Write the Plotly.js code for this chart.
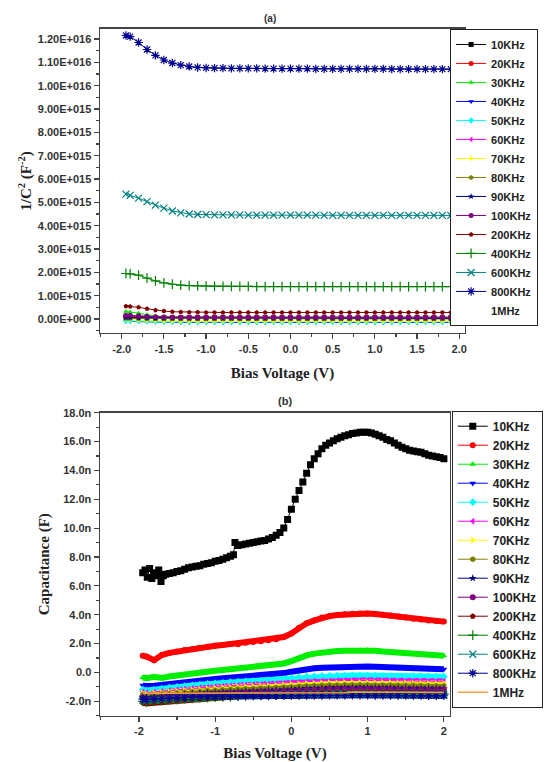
<!DOCTYPE html>
<html><head><meta charset="utf-8">
<script src="https://cdn.plot.ly/plotly-3.0.1.min.js"></script>
<style>body{margin:0;background:#fff}#chart{width:555px;height:762px}</style>
</head><body><div id="chart"></div>
<script>
// Shared bias-voltage samples (V)
const V = [-1.95,-1.9,-1.8,-1.7,-1.6,-1.5,-1.4,-1.3,-1.2,-1.1,-1.0,-0.9,-0.8,-0.7,-0.6,-0.5,-0.4,-0.3,-0.2,-0.1,0.0,0.1,0.2,0.3,0.4,0.5,0.6,0.7,0.8,0.9,1.0,1.1,1.2,1.3,1.4,1.5,1.6,1.7,1.8,1.9,2.0];
const labels = ['10KHz','20KHz','30KHz','40KHz','50KHz','60KHz','70KHz','80KHz','90KHz','100KHz','200KHz','400KHz','600KHz','800KHz','1MHz'];

// (a) 1/C^2 in units of 1e15 F^-2
const inv10K  = [0.08,0.08,0.07,0.06,0.05,0.05,0.05,0.05,0.05,0.05,0.05,0.05,0.05,0.05,0.05,0.05,0.05,0.05,0.05,0.05,0.05,0.05,0.05,0.05,0.05,0.05,0.05,0.05,0.05,0.05,0.05,0.05,0.05,0.05,0.05,0.05,0.05,0.05,0.05,0.05,0.05];
const inv20K  = [0.12,0.12,0.11,0.1,0.09,0.08,0.07,0.07,0.07,0.07,0.07,0.07,0.07,0.07,0.07,0.07,0.07,0.07,0.07,0.07,0.07,0.07,0.07,0.07,0.07,0.07,0.07,0.07,0.07,0.07,0.07,0.07,0.07,0.07,0.07,0.07,0.07,0.07,0.07,0.07,0.07];
const inv30K  = [0.32,0.3,0.25,0.18,0.12,0.09,0.08,0.07,0.07,0.07,0.07,0.07,0.07,0.07,0.07,0.07,0.07,0.07,0.07,0.07,0.07,0.07,0.07,0.07,0.07,0.07,0.07,0.07,0.07,0.07,0.07,0.07,0.07,0.07,0.07,0.07,0.07,0.07,0.07,0.07,0.07];
const inv40K  = [-0.1,-0.1,-0.11,-0.12,-0.13,-0.14,-0.15,-0.15,-0.15,-0.15,-0.15,-0.15,-0.15,-0.15,-0.15,-0.15,-0.15,-0.15,-0.15,-0.15,-0.15,-0.15,-0.15,-0.15,-0.15,-0.15,-0.15,-0.15,-0.15,-0.15,-0.15,-0.15,-0.15,-0.15,-0.15,-0.15,-0.15,-0.15,-0.15,-0.15,-0.15];
const inv50K  = [-0.08,-0.08,-0.09,-0.1,-0.11,-0.12,-0.12,-0.12,-0.12,-0.12,-0.12,-0.12,-0.12,-0.12,-0.12,-0.12,-0.12,-0.12,-0.12,-0.12,-0.12,-0.12,-0.12,-0.12,-0.12,-0.12,-0.12,-0.12,-0.12,-0.12,-0.12,-0.12,-0.12,-0.12,-0.12,-0.12,-0.12,-0.12,-0.12,-0.12,-0.12];
const inv60K  = [0.04,0.04,0.03,0.02,0.02,0.02,0.02,0.02,0.02,0.02,0.02,0.02,0.02,0.02,0.02,0.02,0.02,0.02,0.02,0.02,0.02,0.02,0.02,0.02,0.02,0.02,0.02,0.02,0.02,0.02,0.02,0.02,0.02,0.02,0.02,0.02,0.02,0.02,0.02,0.02,0.02];
const inv70K  = [-0.03,-0.03,-0.05,-0.07,-0.08,-0.1,-0.1,-0.1,-0.1,-0.1,-0.1,-0.1,-0.1,-0.1,-0.1,-0.1,-0.1,-0.1,-0.1,-0.1,-0.1,-0.1,-0.1,-0.1,-0.1,-0.1,-0.1,-0.1,-0.1,-0.1,-0.1,-0.1,-0.1,-0.1,-0.1,-0.1,-0.1,-0.1,-0.1,-0.1,-0.1];
const inv80K  = [0.02,0.02,0.01,0.0,0.0,0.0,0.0,0.0,0.0,0.0,0.0,0.0,0.0,0.0,0.0,0.0,0.0,0.0,0.0,0.0,0.0,0.0,0.0,0.0,0.0,0.0,0.0,0.0,0.0,0.0,0.0,0.0,0.0,0.0,0.0,0.0,0.0,0.0,0.0,0.0,0.0];
const inv90K  = [0.06,0.06,0.05,0.04,0.03,0.03,0.03,0.03,0.03,0.03,0.03,0.03,0.03,0.03,0.03,0.03,0.03,0.03,0.03,0.03,0.03,0.03,0.03,0.03,0.03,0.03,0.03,0.03,0.03,0.03,0.03,0.03,0.03,0.03,0.03,0.03,0.03,0.03,0.03,0.03,0.03];
const inv100K = [0.16,0.16,0.14,0.12,0.1,0.09,0.08,0.08,0.08,0.08,0.08,0.08,0.08,0.08,0.08,0.08,0.08,0.08,0.08,0.08,0.08,0.08,0.08,0.08,0.08,0.08,0.08,0.08,0.08,0.08,0.08,0.08,0.08,0.08,0.08,0.08,0.08,0.08,0.08,0.08,0.08];
const inv200K = [0.55,0.54,0.5,0.44,0.38,0.34,0.31,0.3,0.29,0.29,0.28,0.28,0.28,0.28,0.28,0.28,0.28,0.28,0.28,0.28,0.28,0.28,0.28,0.28,0.28,0.28,0.28,0.28,0.28,0.28,0.28,0.28,0.28,0.28,0.28,0.28,0.28,0.28,0.28,0.28,0.28];
const inv400K = [1.95,1.93,1.88,1.75,1.63,1.55,1.49,1.45,1.43,1.42,1.41,1.4,1.4,1.4,1.4,1.4,1.39,1.39,1.39,1.39,1.39,1.39,1.39,1.39,1.39,1.39,1.39,1.39,1.39,1.39,1.39,1.39,1.39,1.39,1.39,1.39,1.39,1.39,1.39,1.39,1.39];
const inv600K = [5.35,5.3,5.18,5.03,4.88,4.75,4.63,4.55,4.5,4.48,4.47,4.46,4.46,4.46,4.46,4.45,4.45,4.45,4.45,4.45,4.45,4.45,4.45,4.45,4.44,4.44,4.44,4.44,4.44,4.44,4.44,4.44,4.44,4.44,4.44,4.44,4.44,4.44,4.44,4.44,4.44];
const inv800K = [12.15,12.1,11.85,11.55,11.3,11.1,10.97,10.88,10.82,10.78,10.76,10.75,10.75,10.74,10.74,10.74,10.74,10.73,10.73,10.73,10.73,10.73,10.73,10.72,10.72,10.72,10.72,10.72,10.72,10.72,10.72,10.72,10.71,10.71,10.71,10.71,10.71,10.71,10.71,10.71,10.71];
const invYTicks = [0,1,2,3,4,5,6,7,8,9,10,11,12];
const invYText = ['0.00E+000','1.00E+015','2.00E+015','3.00E+015','4.00E+015','5.00E+015','6.00E+015','7.00E+015','8.00E+015','9.00E+015','1.00E+016','1.10E+016','1.20E+016'];
const topXTicks = [-2,-1.5,-1,-0.5,0,0.5,1,1.5,2];
const topXText = ['-2.0','-1.5','-1.0','-0.5','0.0','0.5','1.0','1.5','2.0'];

// (b) Capacitance in nF
const V10K = [-1.95,-1.92,-1.89,-1.86,-1.83,-1.8,-1.77,-1.74,-1.71,-1.68,-1.65,-1.6,-1.55,-1.5,-1.45,-1.4,-1.35,-1.3,-1.25,-1.2,-1.15,-1.1,-1.05,-1.0,-0.95,-0.9,-0.85,-0.8,-0.76,-0.74,-0.7,-0.65,-0.6,-0.55,-0.5,-0.45,-0.4,-0.35,-0.3,-0.25,-0.2,-0.15,-0.1,-0.05,0.0,0.05,0.1,0.15,0.2,0.25,0.3,0.35,0.4,0.45,0.5,0.55,0.6,0.65,0.7,0.75,0.8,0.85,0.9,0.95,1.0,1.05,1.1,1.15,1.2,1.25,1.3,1.35,1.4,1.45,1.5,1.55,1.6,1.65,1.7,1.75,1.8,1.85,1.9,1.95,2.0];
const cap10K = [6.9,7.1,6.6,7.2,6.5,6.9,6.7,7.1,6.3,6.7,6.8,6.85,6.9,7.0,7.05,7.15,7.25,7.3,7.35,7.4,7.5,7.55,7.6,7.7,7.75,7.85,7.95,8.05,8.15,9.0,8.8,8.85,8.9,8.95,9.0,9.05,9.1,9.15,9.25,9.35,9.5,9.7,10.0,10.6,11.3,12.0,12.6,13.2,13.8,14.4,14.8,15.15,15.5,15.75,15.9,16.05,16.2,16.3,16.4,16.48,16.55,16.6,16.65,16.65,16.65,16.6,16.5,16.4,16.3,16.15,16.05,15.9,15.75,15.6,15.5,15.4,15.35,15.3,15.25,15.15,15.05,15.0,14.95,14.9,14.8];
const cap20K  = [1.15,1.1,0.85,1.2,1.35,1.45,1.55,1.6,1.7,1.78,1.85,1.9,1.97,1.95,2.05,2.1,2.15,2.22,2.3,2.45,2.7,3.1,3.4,3.6,3.8,3.9,3.98,4.03,4.07,4.08,4.08,4.05,4.0,3.95,3.88,3.8,3.72,3.66,3.6,3.57,3.52];
const cap30K  = [-0.35,-0.4,-0.3,-0.38,-0.28,-0.2,-0.15,-0.1,-0.03,0.05,0.12,0.17,0.22,0.27,0.32,0.37,0.42,0.47,0.52,0.62,0.78,1.0,1.18,1.3,1.38,1.44,1.48,1.5,1.52,1.54,1.55,1.5,1.45,1.4,1.35,1.3,1.25,1.22,1.2,1.18,1.15];
const cap40K  = [-0.9,-0.95,-0.92,-0.85,-0.78,-0.72,-0.66,-0.6,-0.55,-0.5,-0.45,-0.4,-0.36,-0.33,-0.3,-0.27,-0.24,-0.2,-0.15,-0.05,0.05,0.15,0.22,0.28,0.32,0.35,0.37,0.39,0.4,0.4,0.4,0.39,0.37,0.35,0.33,0.31,0.29,0.27,0.25,0.24,0.22];
const cap50K  = [-1.2,-1.25,-1.2,-1.12,-1.05,-1.0,-0.95,-0.9,-0.85,-0.8,-0.76,-0.72,-0.68,-0.65,-0.62,-0.6,-0.57,-0.54,-0.5,-0.45,-0.4,-0.34,-0.3,-0.27,-0.25,-0.24,-0.23,-0.22,-0.22,-0.22,-0.22,-0.23,-0.24,-0.25,-0.26,-0.27,-0.28,-0.29,-0.3,-0.3,-0.3];
const cap60K  = [-1.35,-1.4,-1.35,-1.3,-1.25,-1.2,-1.15,-1.1,-1.06,-1.02,-0.98,-0.95,-0.92,-0.89,-0.86,-0.84,-0.82,-0.8,-0.77,-0.74,-0.7,-0.66,-0.63,-0.6,-0.58,-0.57,-0.56,-0.55,-0.55,-0.55,-0.55,-0.56,-0.56,-0.57,-0.58,-0.59,-0.6,-0.6,-0.61,-0.62,-0.62];
const cap70K  = [-1.45,-1.5,-1.45,-1.4,-1.35,-1.3,-1.26,-1.22,-1.18,-1.14,-1.1,-1.07,-1.04,-1.01,-0.99,-0.97,-0.95,-0.93,-0.9,-0.87,-0.84,-0.8,-0.77,-0.75,-0.73,-0.72,-0.71,-0.7,-0.7,-0.7,-0.7,-0.71,-0.71,-0.72,-0.73,-0.74,-0.75,-0.75,-0.76,-0.77,-0.77];
const cap80K  = [-1.55,-1.6,-1.55,-1.5,-1.46,-1.42,-1.38,-1.34,-1.3,-1.26,-1.23,-1.2,-1.17,-1.15,-1.13,-1.11,-1.09,-1.07,-1.05,-1.02,-0.99,-0.96,-0.93,-0.91,-0.89,-0.88,-0.87,-0.86,-0.86,-0.86,-0.86,-0.87,-0.87,-0.88,-0.89,-0.9,-0.9,-0.91,-0.92,-0.92,-0.93];
const cap90K  = [-1.7,-1.75,-1.7,-1.66,-1.62,-1.58,-1.54,-1.5,-1.47,-1.44,-1.41,-1.38,-1.36,-1.34,-1.32,-1.3,-1.28,-1.26,-1.24,-1.22,-1.2,-1.17,-1.14,-1.12,-1.1,-1.09,-1.08,-1.07,-1.07,-1.07,-1.07,-1.08,-1.08,-1.09,-1.1,-1.1,-1.11,-1.12,-1.12,-1.13,-1.13];
const cap100K = [-1.78,-1.82,-1.78,-1.74,-1.7,-1.66,-1.62,-1.58,-1.55,-1.52,-1.49,-1.46,-1.44,-1.42,-1.4,-1.38,-1.36,-1.34,-1.32,-1.3,-1.28,-1.25,-1.22,-1.2,-1.18,-1.17,-1.16,-1.15,-1.15,-1.15,-1.15,-1.16,-1.16,-1.17,-1.18,-1.18,-1.19,-1.2,-1.2,-1.21,-1.21];
const cap200K = [-2.1,-2.15,-2.1,-2.05,-2.0,-1.95,-1.9,-1.86,-1.82,-1.78,-1.75,-1.72,-1.69,-1.66,-1.63,-1.61,-1.59,-1.57,-1.55,-1.53,-1.5,-1.48,-1.46,-1.44,-1.43,-1.42,-1.41,-1.4,-1.4,-1.4,-1.4,-1.41,-1.41,-1.42,-1.42,-1.43,-1.43,-1.44,-1.44,-1.45,-1.45];
const cap400K = [-2.0,-2.05,-2.0,-1.96,-1.92,-1.88,-1.84,-1.8,-1.77,-1.74,-1.71,-1.69,-1.67,-1.65,-1.63,-1.61,-1.6,-1.59,-1.58,-1.56,-1.54,-1.52,-1.5,-1.49,-1.48,-1.47,-1.47,-1.46,-1.46,-1.46,-1.46,-1.47,-1.47,-1.48,-1.48,-1.49,-1.49,-1.5,-1.5,-1.51,-1.51];
const cap600K = [-1.92,-1.96,-1.92,-1.88,-1.84,-1.8,-1.77,-1.74,-1.71,-1.69,-1.67,-1.65,-1.63,-1.62,-1.61,-1.6,-1.59,-1.58,-1.57,-1.56,-1.55,-1.54,-1.53,-1.52,-1.52,-1.51,-1.51,-1.51,-1.51,-1.51,-1.51,-1.52,-1.52,-1.52,-1.53,-1.53,-1.53,-1.54,-1.54,-1.54,-1.55];
const cap800K = [-1.85,-1.88,-1.85,-1.82,-1.79,-1.76,-1.74,-1.72,-1.7,-1.69,-1.68,-1.67,-1.66,-1.65,-1.64,-1.63,-1.63,-1.62,-1.62,-1.61,-1.61,-1.6,-1.6,-1.6,-1.6,-1.59,-1.59,-1.59,-1.59,-1.59,-1.59,-1.6,-1.6,-1.6,-1.6,-1.61,-1.61,-1.61,-1.62,-1.62,-1.62];
const cap1M   = [-1.45,-1.45,-1.44,-1.43,-1.43,-1.42,-1.42,-1.42,-1.41,-1.41,-1.41,-1.41,-1.41,-1.41,-1.41,-1.41,-1.41,-1.41,-1.41,-1.41,-1.41,-1.41,-1.41,-1.41,-1.41,-1.41,-1.41,-1.41,-1.36,-1.36,-1.36,-1.36,-1.36,-1.36,-1.36,-1.36,-1.36,-1.36,-1.36,-1.4,-1.4];
const capYTicks = [-2,0,2,4,6,8,10,12,14,16,18];
const capYText = ['-2.0n','0.0','2.0n','4.0n','6.0n','8.0n','10.0n','12.0n','14.0n','16.0n','18.0n'];
const botXTicks = [-2,-1,0,1,2];
const botXText = ['-2','-1','0','1','2'];

const colors = ['#000000','#ff0000','#00ee00','#0000ff','#00ffff','#ff00ff','#ffff00','#808000','#000080','#800080','#800000','#008000','#008080','#000090','#ffa040'];
const symbols = ['square','circle','triangle-up','triangle-down','diamond','triangle-left','triangle-right','hexagon','star','circle','pentagon','cross-thin-open','x-thin-open','asterisk-open','none'];

const topData = [inv10K,inv20K,inv30K,inv40K,inv50K,inv60K,inv70K,inv80K,inv90K,inv100K,inv200K,inv400K,inv600K,inv800K];
const botData = [cap20K,cap30K,cap40K,cap50K,cap60K,cap70K,cap80K,cap90K,cap100K,cap200K,cap400K,cap600K,cap800K,cap1M];

const traces = [];
topData.forEach((d,i)=>{
  const thin = i>=11;
  traces.push({x:V,y:d,xaxis:'x',yaxis:'y',name:labels[i],legend:'legend',
    mode:'lines+markers',line:{color:colors[i],width:1},
    marker:{symbol:symbols[i],size:thin?7:5,color:colors[i],line:{color:colors[i],width:thin?1.2:0}}});
});
traces.push({x:[null],y:[null],xaxis:'x',yaxis:'y',name:'1MHz',legend:'legend',mode:'lines',line:{color:'rgba(0,0,0,0)',width:1}});

// (b) thick bands underneath
botData.forEach((d,k)=>{
  const i=k+1;
  if(i===14) return;
  traces.push({x:V,y:d,xaxis:'x2',yaxis:'y2',showlegend:false,hoverinfo:'skip',mode:'lines',line:{color:colors[i],width:6}});
});
traces.push({x:V10K,y:cap10K,xaxis:'x2',yaxis:'y2',name:labels[0],legend:'legend2',mode:'lines+markers',
  line:{color:'#000',width:1},marker:{symbol:'square',size:7,color:'#000'}});
botData.forEach((d,k)=>{
  const i=k+1;
  const thin = i>=11;
  traces.push({x:V,y:d,xaxis:'x2',yaxis:'y2',name:labels[i],legend:'legend2',
    mode: i===14?'lines':'lines+markers',line:{color:colors[i],width:i===14?1.5:1},
    marker:{symbol:symbols[i],size:thin?7:6,color:colors[i],line:{color:colors[i],width:thin?1.2:0}}});
});

const tickFont = {family:'Liberation Sans, Arial',size:11,color:'#333',weight:'bold'};
const titleFont = {family:'Liberation Serif, Times New Roman',size:15,color:'#222',weight:'bold'};
const axBase = {showline:true,linecolor:'#444',linewidth:1.5,mirror:true,ticks:'outside',ticklen:5,tickwidth:1.2,tickcolor:'#444',
  showgrid:false,zeroline:false,tickfont:tickFont,tickmode:'array'};
const legBase = {bgcolor:'#fff',bordercolor:'#222',borderwidth:1,xanchor:'left',yanchor:'top',itemwidth:30,
  font:{family:'Liberation Sans, Arial',size:11,color:'#222',weight:'bold'},tracegroupgap:0};

const layout = {
  width:555,height:762,margin:{l:0,r:0,t:0,b:0},paper_bgcolor:'#fff',plot_bgcolor:'#fff',showlegend:true,
  xaxis:Object.assign({},axBase,{domain:[0.1802,0.8378],range:[-2.257,2.068],anchor:'y',tickvals:topXTicks,ticktext:topXText,
    minor:{tickmode:'linear',tick0:0,dtick:0.25,ticks:'outside',ticklen:3,tickcolor:'#444'},
    title:{text:'Bias Voltage (V)',font:titleFont,standoff:14}}),
  yaxis:Object.assign({},axBase,{domain:[0.563,0.962],range:[-0.6,12.43],anchor:'x',tickvals:invYTicks,ticktext:invYText,
    minor:{tickmode:'linear',tick0:0,dtick:0.5,ticks:'outside',ticklen:3,tickcolor:'#444'},
    title:{text:'1/C<sup>2</sup> (F<sup>-2</sup>)',font:titleFont,standoff:2}}),
  xaxis2:Object.assign({},axBase,{domain:[0.1802,0.8108],range:[-2.51,2.08],anchor:'y2',tickvals:botXTicks,ticktext:botXText,
    minor:{tickmode:'linear',tick0:0,dtick:0.5,ticks:'outside',ticklen:3,tickcolor:'#444'},
    title:{text:'Bias Voltage (V)',font:titleFont,standoff:16}}),
  yaxis2:Object.assign({},axBase,{domain:[0.0608,0.4584],range:[-3,18],anchor:'x2',tickvals:capYTicks,ticktext:capYText,
    minor:{tickmode:'linear',tick0:0,dtick:1,ticks:'outside',ticklen:3,tickcolor:'#444'},
    title:{text:'Capacitance (F)',font:titleFont,standoff:10}}),
  legend:Object.assign({},legBase,{x:0.811,y:0.962}),
  legend2:Object.assign({},legBase,{x:0.814,y:0.461,font:{family:'Liberation Sans, Arial',size:12,color:'#222',weight:'bold'}}),
  annotations:[
    {text:'(a)',x:0.487,y:0.985,xref:'paper',yref:'paper',showarrow:false,font:{family:'Liberation Sans, Arial',size:10,color:'#333',weight:'bold'}},
    {text:'(b)',x:0.514,y:0.474,xref:'paper',yref:'paper',showarrow:false,font:{family:'Liberation Sans, Arial',size:11,color:'#333',weight:'bold'}}
  ]
};
Plotly.newPlot('chart',traces,layout,{displayModeBar:false,staticPlot:true});
</script></body></html>
